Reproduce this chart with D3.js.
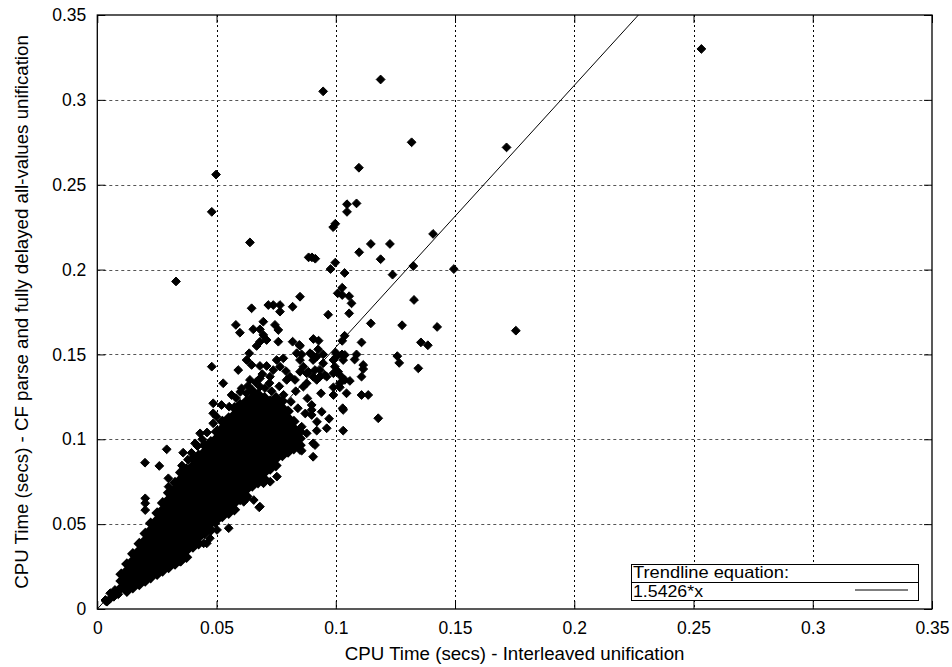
<!DOCTYPE html>
<html>
<head>
<meta charset="utf-8">
<script src="https://cdn.jsdelivr.net/npm/d3@7"></script>
<style>
  html, body { margin: 0; padding: 0; background: #fff; }
  svg { display: block; }
  text { font-family: "Liberation Sans", Arial, Helvetica, sans-serif; fill: #000; }
</style>
</head>
<body>
<svg id="chart" width="952" height="667"></svg>
<script>
// ---------- data (seconds) ----------
const xTicks = [0, 0.05, 0.1, 0.15, 0.2, 0.25, 0.3, 0.35];
const yTicks = [0, 0.05, 0.1, 0.15, 0.2, 0.25, 0.3, 0.35];
const xTickLabels = ["0", "0.05", "0.1", "0.15", "0.2", "0.25", "0.3", "0.35"];
const yTickLabels = ["0", "0.05", "0.1", "0.15", "0.2", "0.25", "0.3", "0.35"];
const trendSlope = 1.5426;
const legendTitle = "Trendline equation:";
const legendLabel = "1.5426*x";
const xTitle = "CPU Time (secs) - Interleaved unification";
const yTitle = "CPU Time (secs) - CF parse and fully delayed all-values unification";

// scattered (individually read) samples [interleaved, delayed]
const sparseSamples = [
  [0.2533,0.330],[0.1188,0.312],[0.0947,0.305],[0.1318,0.275],[0.1716,0.272],[0.1097,0.260],
  [0.0498,0.256],[0.1047,0.2385],[0.1087,0.239],[0.1047,0.234],[0.0480,0.234],[0.0989,0.225],
  [0.0998,0.227],[0.1408,0.221],[0.0640,0.216],[0.1147,0.2151],[0.1227,0.2151],[0.1098,0.2102],
  [0.1188,0.2061],[0.0886,0.2072],[0.0900,0.2072],[0.0914,0.2064],[0.0998,0.2041],[0.0978,0.2003],
  [0.1325,0.2021],[0.1495,0.2003],[0.1238,0.197],[0.1037,0.198],[0.0330,0.193],[0.1027,0.1893],
  [0.1008,0.1860],[0.1027,0.1850],[0.1056,0.1843],[0.1066,0.1801],[0.0850,0.184],[0.0968,0.1734],
  [0.1056,0.1742],[0.1328,0.1821],[0.1147,0.1683],[0.1278,0.1672],[0.1425,0.1662],[0.1755,0.1640],
  [0.1357,0.1571],[0.1386,0.1554],[0.1108,0.1571],[0.0906,0.1591],[0.0928,0.1581],[0.1037,0.161],
  [0.1027,0.158],[0.0850,0.155],[0.0857,0.150],[0.0899,0.150],[0.0913,0.148],[0.0947,0.150],
  [0.0926,0.153],[0.1000,0.151],[0.1026,0.150],[0.1087,0.150],[0.1079,0.147],[0.1258,0.149],
  [0.1266,0.145],[0.1346,0.1418],[0.1115,0.1438],[0.1115,0.1414],[0.1108,0.1369],[0.0850,0.1398],
  [0.0878,0.1389],[0.0878,0.133],[0.0864,0.131],[0.0913,0.1408],[0.0933,0.1369],[0.0954,0.1379],
  [0.0920,0.135],[0.0996,0.1428],[0.1010,0.1398],[0.0990,0.1389],[0.1024,0.1369],[0.1038,0.135],
  [0.1059,0.1344],[0.1017,0.133],[0.0938,0.1271],[0.0990,0.1306],[0.1017,0.1306],[0.1045,0.1271],
  [0.1108,0.1261],[0.1136,0.1261],[0.0990,0.1261],
  [0.0647,0.1772],[0.0717,0.1791],[0.0738,0.1791],[0.0766,0.1791],[0.0766,0.1752],[0.0819,0.1781],
  [0.0581,0.1674],[0.0598,0.1628],[0.0654,0.1648],[0.0696,0.1693],[0.0682,0.1648],[0.0696,0.1615],
  [0.0745,0.1674],[0.0759,0.1644],[0.0682,0.1575],[0.0710,0.1585],[0.0759,0.1575],[0.0819,0.1575],
  [0.0847,0.1556],[0.0637,0.1507],[0.0626,0.1467],[0.0647,0.1438],[0.0682,0.1432],[0.0710,0.1432],
  [0.0480,0.1428],[0.0591,0.1408],[0.0752,0.1467],[0.0780,0.1477],[0.0766,0.1428],[0.0738,0.1408],
  [0.0724,0.1369],[0.0836,0.1507],[0.0850,0.1467],[0.0864,0.1428],[0.0808,0.1369],[0.0829,0.135],
  [0.0794,0.135],[0.0682,0.1359],[0.0640,0.135],[0.0605,0.130],[0.0682,0.131],[0.0626,0.1271],
  [0.0528,0.133],[0.0563,0.1261],[0.0892,0.1507],[0.0920,0.1487],[0.0905,0.1467],[0.0947,0.1448],
  [0.0934,0.1408],[0.0990,0.1467],[0.1003,0.1487],[0.1031,0.1467],[0.1038,0.1497],[0.0885,0.1398],
  [0.0905,0.1369],[0.0934,0.1369],[0.0962,0.1369],[0.0899,0.1202],[0.0899,0.1173],[0.0899,0.1143],
  [0.1029,0.1183],[0.1178,0.1124],[0.1031,0.1051],[0.0878,0.1035],[0.0920,0.1051],[0.0962,0.1065],
  [0.0913,0.0966],[0.0905,0.0897],[0.0857,0.0933],[0.0801,0.0933],[0.0360,0.0921],[0.0410,0.0976],
  [0.0431,0.1035],[0.0486,0.1212],[0.0521,0.1202],[0.0486,0.1153],[0.0500,0.1133],[0.0486,0.1094],
  [0.0668,0.155],[0.0291,0.0941],[0.0200,0.0862],[0.0260,0.0843],[0.0298,0.077],[0.0201,0.0652],
  [0.0201,0.0623],[0.0201,0.0583],[0.0299,0.0721],[0.0348,0.0279],[0.0313,0.0279],[0.0150,0.0131],
  [0.0054,0.0093],[0.0069,0.0072],[0.0041,0.0043],[0.0034,0.0053],[0.0117,0.019],[0.0104,0.0171],
  [0.0138,0.0171],[0.0551,0.0476],[0.0502,0.0466],[0.0460,0.0485],[0.0495,0.0505],[0.0446,0.0387],
  [0.0404,0.0387],[0.0679,0.0599],[0.0656,0.0642],[0.0614,0.0632],[0.0627,0.0652],[0.0753,0.078],
  [0.0725,0.075],[0.0697,0.0741],[0.0795,0.0927],[0.0809,0.1035],[0.0459,0.0387],[0.0472,0.0417],
  [0.0410,0.0397],[0.0438,0.0436],[0.0682,0.0603],[0.0850,0.0937],[0.0905,0.0976],[0.0857,0.1074],
  [0.1031,0.1173],[0.0037,0.0045],[0.0051,0.0057],[0.0074,0.0112],[0.0067,0.0093],[0.0088,0.0087],
  [0.0420,0.096],[0.0440,0.100],[0.0460,0.104],[0.0355,0.0845],[0.0380,0.088],[0.0395,0.092],
  [0.0600,0.128],[0.0632,0.1315],[0.0664,0.1335],[0.0703,0.1302],[0.0731,0.1283],[0.0781,0.1262],
  [0.0812,0.1221],[0.0841,0.1183],[0.0872,0.1152],[0.0582,0.1243],[0.0553,0.1192],[0.0722,0.1331],
  [0.0763,0.1312],[0.0692,0.1384],[0.0791,0.1402],[0.0832,0.1283],[0.0881,0.1241],[0.0941,0.1162],
  [0.0972,0.1121],[0.0921,0.1103]
];

// dense core of the cloud, read column by column: [interleaved, [delayed values]]
const denseColumns = [
  [0.0100,[0.0125,0.0165,0.0205]],
  [0.0124,[0.0105,0.0145,0.0185,0.0225,0.0265]],
  [0.0149,[0.0125,0.0165,0.0205,0.0245,0.0285,0.0325]],
  [0.0176,[0.0145,0.0185,0.0225,0.0265,0.0305,0.0345,0.0385]],
  [0.0201,[0.0165,0.0205,0.0245,0.0285,0.0325,0.0365,0.0405,0.0445]],
  [0.0224,[0.0185,0.0225,0.0265,0.0305,0.0345,0.0385,0.0425,0.0465,0.0505]],
  [0.0251,[0.0205,0.0245,0.0285,0.0325,0.0365,0.0405,0.0445,0.0485,0.0525,0.0565]],
  [0.0274,[0.0225,0.0265,0.0305,0.0345,0.0385,0.0425,0.0465,0.0505,0.0545,0.0585,0.0625]],
  [0.0299,[0.0245,0.0285,0.0325,0.0365,0.0405,0.0445,0.0485,0.0525,0.0565,0.0605,0.0645,0.0685]],
  [0.0326,[0.0265,0.0305,0.0345,0.0385,0.0425,0.0465,0.0505,0.0545,0.0585,0.0625,0.0665,0.0705,0.0745]],
  [0.0350,[0.0285,0.0325,0.0365,0.0405,0.0445,0.0485,0.0525,0.0565,0.0605,0.0645,0.0685,0.0725,0.0765,0.0805]],
  [0.0374,[0.0305,0.0345,0.0385,0.0425,0.0465,0.0505,0.0545,0.0585,0.0625,0.0665,0.0705,0.0745,0.0785,0.0825]],
  [0.0401,[0.0365,0.0405,0.0445,0.0485,0.0525,0.0565,0.0605,0.0645,0.0685,0.0725,0.0765,0.0805,0.0845,0.0885]],
  [0.0425,[0.0385,0.0425,0.0465,0.0505,0.0545,0.0585,0.0625,0.0665,0.0705,0.0745,0.0785,0.0825,0.0865,0.0905]],
  [0.0449,[0.0445,0.0485,0.0525,0.0565,0.0605,0.0645,0.0685,0.0725,0.0765,0.0805,0.0845,0.0885,0.0925,0.0965]],
  [0.0476,[0.0465,0.0505,0.0545,0.0585,0.0625,0.0665,0.0705,0.0745,0.0785,0.0825,0.0865,0.0905,0.0945,0.0985]],
  [0.0500,[0.0525,0.0565,0.0605,0.0645,0.0685,0.0725,0.0765,0.0805,0.0845,0.0885,0.0925,0.0965,0.1005,0.1045]],
  [0.0524,[0.0545,0.0585,0.0625,0.0665,0.0705,0.0745,0.0785,0.0825,0.0865,0.0905,0.0945,0.0985,0.1025,0.1065,0.1105]],
  [0.0551,[0.0565,0.0605,0.0645,0.0685,0.0725,0.0765,0.0805,0.0845,0.0885,0.0925,0.0965,0.1005,0.1045,0.1085,0.1125]],
  [0.0575,[0.0585,0.0625,0.0665,0.0705,0.0745,0.0785,0.0825,0.0865,0.0905,0.0945,0.0985,0.1025,0.1065,0.1105,0.1145,0.1185]],
  [0.0599,[0.0645,0.0685,0.0725,0.0765,0.0805,0.0845,0.0885,0.0925,0.0965,0.1005,0.1045,0.1085,0.1125,0.1165,0.1205]],
  [0.0626,[0.0665,0.0705,0.0745,0.0785,0.0825,0.0865,0.0905,0.0945,0.0985,0.1025,0.1065,0.1105,0.1145,0.1185,0.1225]],
  [0.0650,[0.0725,0.0765,0.0805,0.0845,0.0885,0.0925,0.0965,0.1005,0.1045,0.1085,0.1125,0.1165,0.1205,0.1245,0.1285]],
  [0.0674,[0.0745,0.0785,0.0825,0.0865,0.0905,0.0945,0.0985,0.1025,0.1065,0.1105,0.1145,0.1185,0.1225,0.1265]],
  [0.0701,[0.0765,0.0805,0.0845,0.0885,0.0925,0.0965,0.1005,0.1045,0.1085,0.1125,0.1165,0.1205,0.1245]],
  [0.0725,[0.0825,0.0865,0.0905,0.0945,0.0985,0.1025,0.1065,0.1105,0.1145,0.1185,0.1225]],
  [0.0749,[0.0845,0.0885,0.0925,0.0965,0.1005,0.1045,0.1085,0.1125,0.1165,0.1205,0.1245]],
  [0.0776,[0.0905,0.0945,0.0985,0.1025,0.1065,0.1105,0.1145,0.1185,0.1225]],
  [0.0800,[0.0925,0.0965,0.1005,0.1045,0.1085,0.1125,0.1165]],
  [0.0824,[0.0945,0.0985,0.1025,0.1065,0.1105]],
  [0.0850,[0.0965,0.1005,0.1045]]
];

// ---------- layout ----------
const svg = d3.select("#chart");
const plot = { left: 97.3, right: 932, top: 15, bottom: 609 };

const x = d3.scaleLinear().domain([0, 0.35]).range([plot.left, plot.right]);
const y = d3.scaleLinear().domain([0, 0.35]).range([plot.bottom, plot.top]);

const coreSamples = denseColumns.flatMap(([cx, ys]) => ys.map(v => [cx, v]));

// grid
const grid = svg.append("g").attr("stroke", "#000").attr("stroke-width", 1)
  .attr("stroke-dasharray", "2,3").attr("fill", "none");
grid.selectAll("line.gx").data(xTicks.filter(t => t > 0 && t < 0.35)).join("line")
  .attr("class", "gx")
  .attr("x1", d => Math.round(x(d)) + 0.5).attr("x2", d => Math.round(x(d)) + 0.5)
  .attr("y1", plot.top).attr("y2", plot.bottom);
grid.selectAll("line.gy").data(yTicks.filter(t => t > 0 && t < 0.35)).join("line")
  .attr("class", "gy")
  .attr("y1", d => Math.round(y(d)) + 0.5).attr("y2", d => Math.round(y(d)) + 0.5)
  .attr("x1", plot.left).attr("x2", plot.right)
  .attr("stroke", "#555").attr("stroke-dasharray", "3,3");

// axes
const fmtX = (d, i) => xTickLabels[i];
const fmtY = (d, i) => yTickLabels[i];
const axB = svg.append("g").attr("transform", `translate(0,${plot.bottom})`)
  .call(d3.axisBottom(x).tickValues(xTicks).tickFormat(fmtX).tickSize(-8).tickPadding(13));
const axL = svg.append("g").attr("transform", `translate(${plot.left},0)`)
  .call(d3.axisLeft(y).tickValues(yTicks).tickFormat(fmtY).tickSize(-8).tickPadding(11));
const axT = svg.append("g").attr("transform", `translate(0,${plot.top})`)
  .call(d3.axisTop(x).tickValues(xTicks).tickFormat("").tickSize(-8));
const axR = svg.append("g").attr("transform", `translate(${plot.right},0)`)
  .call(d3.axisRight(y).tickValues(yTicks).tickFormat("").tickSize(-8));
[axB, axL, axT, axR].forEach(a => {
  a.select(".domain").remove();
  a.selectAll("text").style("font-size", "17.5px")
    .style("font-family", '"Liberation Sans", Arial, Helvetica, sans-serif');
  a.selectAll("line").attr("stroke", "#000");
});

// points
const r = 4.4;
const diamond = `M0,${-r}L${r},0L0,${r}L${-r},0Z`;
const pts = svg.append("g");
pts.selectAll("path.core").data(coreSamples).join("path")
  .attr("class", "core")
  .attr("d", diamond)
  .attr("transform", d => `translate(${x(d[0])},${y(d[1])})`)
  .attr("fill", "#000").attr("stroke", "#000").attr("stroke-width", 2);
pts.selectAll("path.sparse").data(sparseSamples).join("path")
  .attr("class", "sparse")
  .attr("d", diamond)
  .attr("transform", d => `translate(${x(d[0])},${y(d[1])})`)
  .attr("fill", "#000").attr("stroke", "#000").attr("stroke-width", 1);

// trend line (clipped)
svg.append("clipPath").attr("id", "clip").append("rect")
  .attr("x", plot.left).attr("y", plot.top)
  .attr("width", plot.right - plot.left).attr("height", plot.bottom - plot.top);
const xEnd = 0.35 / trendSlope;
svg.append("line").attr("clip-path", "url(#clip)")
  .attr("x1", x(0)).attr("y1", y(0))
  .attr("x2", x(xEnd)).attr("y2", y(trendSlope * xEnd))
  .attr("stroke", "#000").attr("stroke-width", 1);

// border
svg.append("rect")
  .attr("x", plot.left).attr("y", plot.top)
  .attr("width", plot.right - plot.left).attr("height", plot.bottom - plot.top)
  .attr("fill", "none").attr("stroke", "#000").attr("stroke-width", 1.3);

// legend
const lg = svg.append("g");
lg.append("rect").attr("x", 631.5).attr("y", 564.5).attr("width", 287).attr("height", 36)
  .attr("fill", "#fff").attr("stroke", "#000").attr("stroke-width", 1);
lg.append("line").attr("x1", 631.5).attr("x2", 918.5).attr("y1", 582.5).attr("y2", 582.5)
  .attr("stroke", "#000").attr("stroke-width", 1);
lg.append("text").attr("x", 633).attr("y", 577.5).style("font-size", "16.5px")
  .attr("textLength", 156).attr("lengthAdjust", "spacingAndGlyphs").text(legendTitle);
lg.append("text").attr("x", 633).attr("y", 597).style("font-size", "16.5px")
  .attr("textLength", 70).attr("lengthAdjust", "spacingAndGlyphs").text(legendLabel);
lg.append("line").attr("x1", 855).attr("x2", 908).attr("y1", 590).attr("y2", 590)
  .attr("stroke", "#000").attr("stroke-width", 1);

// titles
svg.append("text").attr("x", (plot.left + plot.right) / 2).attr("y", 660)
  .attr("text-anchor", "middle").style("font-size", "18.7px").text(xTitle);
svg.append("text")
  .attr("transform", `translate(28,${(plot.top + plot.bottom) / 2}) rotate(-90)`)
  .attr("text-anchor", "middle").style("font-size", "18.7px").text(yTitle);
</script>
</body>
</html>
